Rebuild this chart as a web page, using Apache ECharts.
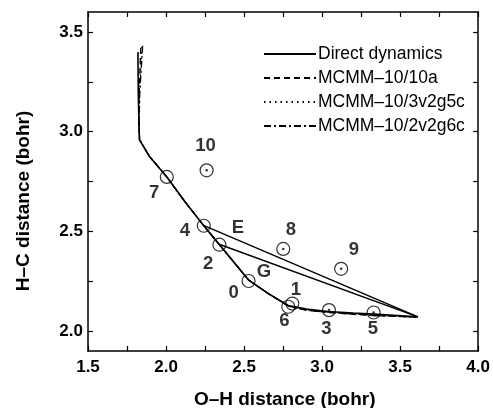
<!DOCTYPE html>
<html>
<head>
<meta charset="utf-8">
<script src="https://cdn.jsdelivr.net/npm/echarts@6/dist/echarts.min.js"></script>
<style>
html,body{margin:0;padding:0;background:#fff;}
#chart{width:493px;height:408px;}
</style>
</head>
<body>
<div id="chart"></div>
<script>
// ---- data ----
const xTicks = [1.5, 1.75, 2.0, 2.25, 2.5, 2.75, 3.0, 3.25, 3.5, 3.75, 4.0];
const xLabels = [1.5, 2.0, 2.5, 3.0, 3.5, 4.0];
const yTicks = [2.0, 2.25, 2.5, 2.75, 3.0, 3.25, 3.5];
const yLabels = [2.0, 2.5, 3.0, 3.5];

const seriesNames = ['Direct dynamics', 'MCMM\u201310/10a', 'MCMM\u201310/3v2g5c', 'MCMM\u201310/2v2g6c'];

const ddX = [1.820, 1.822, 1.826, 1.829, 1.840, 1.892, 1.955, 2.005, 2.120, 2.240, 2.340, 2.530, 2.656, 2.783, 2.900, 3.037, 3.200, 3.330, 3.614];
const ddY = [3.400, 3.200, 3.050, 2.960, 2.952, 2.877, 2.819, 2.773, 2.650, 2.530, 2.435, 2.255, 2.188, 2.128, 2.110, 2.098, 2.090, 2.085, 2.071];

const aX = [1.838, 1.828, 1.826, 1.830, 1.842, 1.893, 1.956, 2.006, 2.120, 2.240, 2.340, 2.530, 2.660, 2.785, 2.900, 3.040, 3.200, 3.330, 3.610];
const aY = [3.420, 3.200, 3.050, 2.960, 2.950, 2.876, 2.818, 2.772, 2.650, 2.530, 2.435, 2.255, 2.185, 2.125, 2.104, 2.094, 2.084, 2.078, 2.070];

const bX = [1.845, 1.830, 1.827, 1.831, 1.843, 1.894, 1.957, 2.006, 2.120, 2.240, 2.340, 2.530, 2.660, 2.785, 2.900, 3.040, 3.200, 3.330, 3.610];
const bY = [3.425, 3.200, 3.050, 2.960, 2.950, 2.876, 2.818, 2.772, 2.650, 2.530, 2.435, 2.255, 2.186, 2.124, 2.106, 2.095, 2.086, 2.079, 2.070];

const cX = [1.850, 1.832, 1.828, 1.831, 1.843, 1.894, 1.957, 2.006, 2.120, 2.240, 2.340, 2.530, 2.660, 2.785, 2.900, 3.040, 3.200, 3.330, 3.610];
const cY = [3.430, 3.200, 3.050, 2.960, 2.950, 2.876, 2.818, 2.772, 2.650, 2.530, 2.435, 2.255, 2.186, 2.125, 2.105, 2.094, 2.085, 2.078, 2.070];

// straight paths from E and G to the end point
const pathEX = [2.240, 3.614];
const pathEY = [2.530, 2.071];
const pathGX = [2.340, 3.614];
const pathGY = [2.435, 2.071];

// circled points
const ptNames = ['10', '7', '4', '2', '0', '8', '9', '1', '6', '3', '5'];
const ptX = [2.260, 2.005, 2.242, 2.342, 2.529, 2.751, 3.122, 2.809, 2.783, 3.044, 3.330];
const ptY = [2.806, 2.773, 2.528, 2.433, 2.251, 2.412, 2.312, 2.138, 2.122, 2.105, 2.093];
const ptDot = [true, false, false, false, false, true, true, false, false, true, true];

// text labels
const lblText = ['10', '7', '4', 'E', '8', '2', 'G', '9', '0', '1', '6', '3', '5'];
const lblX = [2.253, 1.924, 2.121, 2.461, 2.800, 2.270, 2.628, 3.203, 2.433, 2.832, 2.758, 3.027, 3.326];
const lblY = [2.927, 2.695, 2.503, 2.515, 2.508, 2.337, 2.296, 2.409, 2.191, 2.204, 2.050, 2.013, 2.013];

// ---- build ----
const zip = (xs, ys) => xs.map((x, i) => [x, ys[i]]);
const FONT = '"Liberation Sans", Arial, sans-serif';

const chart = echarts.init(document.getElementById('chart'), null, {renderer: 'canvas'});

function axisCommon() {
  return {
    axisLine: {show: true, onZero: false, lineStyle: {color: '#000', width: 1.5}},
    splitLine: {show: false},
  };
}

const lineBase = {type: 'line', symbol: 'none', silent: true, animation: false, z: 3};

const option = {
  animation: false,
  backgroundColor: '#fff',
  grid: {left: 88, right: 12, top: 12, bottom: 57},
  legend: {
    orient: 'vertical', left: 263, top: 45, padding: 0,
    itemWidth: 52, itemHeight: 14, itemGap: 6,
    data: seriesNames,
    itemStyle: {opacity: 0},
    textStyle: {fontFamily: FONT, fontSize: 17.5, color: '#000', padding: [0, 0, 0, -3]},
    selectedMode: false
  },
  xAxis: [
    Object.assign({
      type: 'value', min: 1.5, max: 4.0, position: 'bottom',
      axisTick: {show: true, inside: true, length: 5, customValues: xTicks, lineStyle: {color: '#000', width: 1.2}},
      axisLabel: {show: true, customValues: xLabels, margin: 8, color: '#000', fontFamily: FONT, fontSize: 17, fontWeight: 'bold',
                  formatter: v => Number(v).toFixed(1)}
    }, axisCommon()),
    Object.assign({
      type: 'value', min: 1.5, max: 4.0, position: 'top',
      axisTick: {show: true, inside: true, length: 5, customValues: xTicks, lineStyle: {color: '#000', width: 1.2}},
      axisLabel: {show: false}
    }, axisCommon())
  ],
  yAxis: [
    Object.assign({
      type: 'value', min: 1.9, max: 3.6, position: 'left',
      axisTick: {show: true, inside: true, length: 5, customValues: yTicks, lineStyle: {color: '#000', width: 1.2}},
      axisLabel: {show: true, customValues: yLabels, margin: 5, color: '#000', fontFamily: FONT, fontSize: 17, fontWeight: 'bold',
                  formatter: v => Number(v).toFixed(1)}
    }, axisCommon()),
    Object.assign({
      type: 'value', min: 1.9, max: 3.6, position: 'right',
      axisTick: {show: true, inside: true, length: 5, customValues: yTicks, lineStyle: {color: '#000', width: 1.2}},
      axisLabel: {show: false}
    }, axisCommon())
  ],
  graphic: [
    {type: 'text', x: 284.7, y: 400,
     style: {text: 'O\u2013H distance (bohr)', font: 'bold 19px ' + FONT, fill: '#000', x: 0, y: 0, textAlign: 'center', textVerticalAlign: 'middle'}},
    {type: 'text', rotation: Math.PI / 2, x: 24, y: 201,
     style: {text: 'H\u2013C distance (bohr)', font: 'bold 19px ' + FONT, fill: '#000', x: 0, y: 0, textAlign: 'center', textVerticalAlign: 'middle'}}
  ],
  series: [
    Object.assign({}, lineBase, {name: seriesNames[0], data: zip(ddX, ddY), lineStyle: {color: '#000', width: 1.6, type: 'solid'}, itemStyle: {color: '#000'}}),
    Object.assign({}, lineBase, {name: seriesNames[1], data: zip(aX, aY), lineStyle: {color: '#000', width: 1.3, type: [6, 4]}, itemStyle: {color: '#000'}}),
    Object.assign({}, lineBase, {name: seriesNames[2], data: zip(bX, bY), lineStyle: {color: '#000', width: 1.3, type: [1.5, 4]}, itemStyle: {color: '#000'}}),
    Object.assign({}, lineBase, {name: seriesNames[3], data: zip(cX, cY), lineStyle: {color: '#000', width: 1.3, type: [7, 3, 2, 3]}, itemStyle: {color: '#000'}}),
    Object.assign({}, lineBase, {name: 'pathE', data: zip(pathEX, pathEY), lineStyle: {color: '#000', width: 1.5}}),
    Object.assign({}, lineBase, {name: 'pathG', data: zip(pathGX, pathGY), lineStyle: {color: '#000', width: 1.5}}),
    {
      type: 'scatter', name: 'points', silent: true, z: 5,
      symbol: 'circle', symbolSize: 13,
      itemStyle: {color: 'rgba(0,0,0,0)', borderColor: '#000', borderWidth: 1.2},
      data: zip(ptX, ptY)
    },
    {
      type: 'scatter', name: 'dots', silent: true, z: 6,
      symbol: 'circle', symbolSize: 2.5,
      itemStyle: {color: '#000'},
      data: zip(ptX, ptY).filter((p, i) => ptDot[i])
    },
    {
      type: 'scatter', name: 'labels', silent: true, z: 7,
      symbol: 'circle', symbolSize: 1,
      itemStyle: {color: 'rgba(0,0,0,0)'},
      label: {show: true, position: 'inside', color: '#000', fontFamily: FONT, fontSize: 18.5, fontWeight: 'bold',
              formatter: p => lblText[p.dataIndex]},
      labelLayout: {hideOverlap: false},
      data: zip(lblX, lblY)
    }
  ]
};
chart.setOption(option);
</script>
</body>
</html>
